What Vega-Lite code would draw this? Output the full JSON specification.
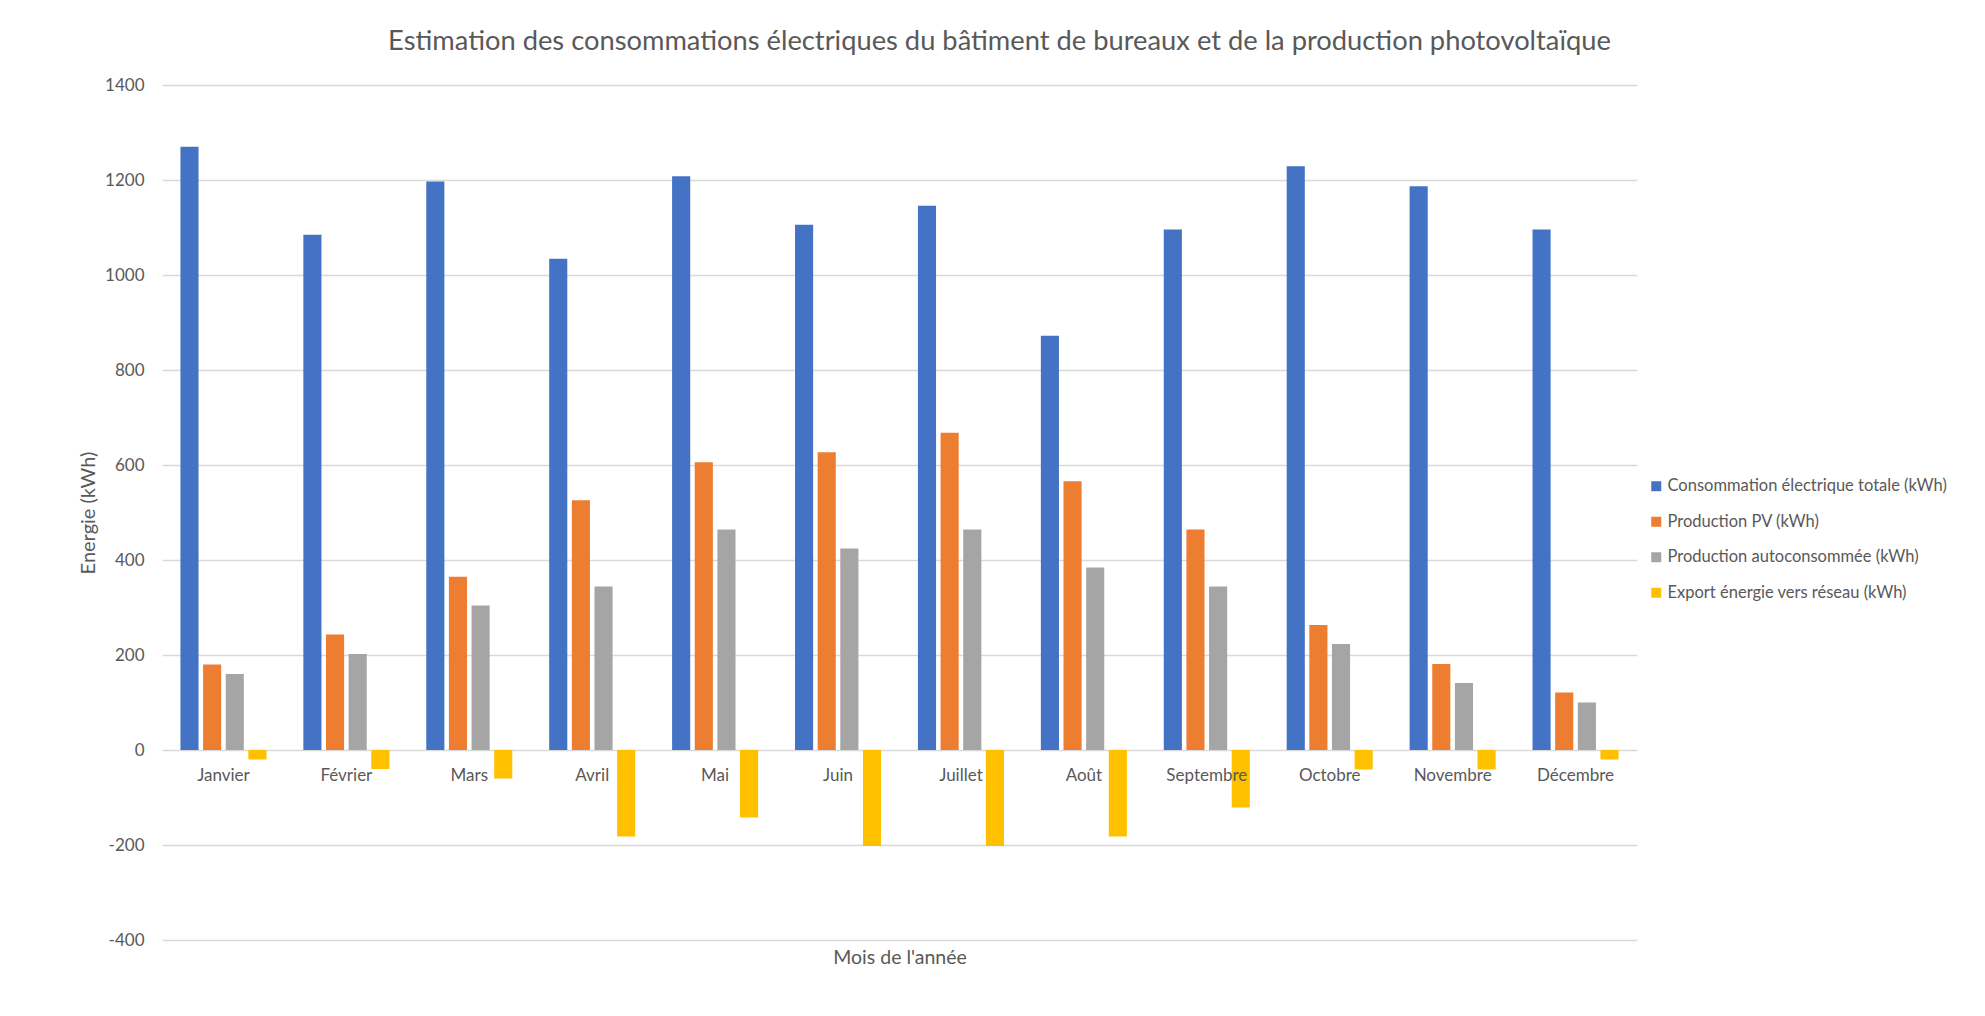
{
  "$schema": "https://vega.github.io/schema/vega-lite/v6.json",
  "width": 1475,
  "height": 855,
  "autosize": {"type": "none"},
  "padding": {"left": 162, "top": 85, "right": 348, "bottom": 76},
  "background": "white",
  "title": {
    "text": "Estimation des consommations électriques du bâtiment de bureaux et de la production photovoltaïque",
    "font": "Lato",
    "fontSize": 27.3,
    "fontWeight": "normal",
    "color": "#595959",
    "anchor": "middle",
    "baseline": "alphabetic",
    "offset": -1,
    "dx": 100
  },
  "data": {
    "values": [
      {"mois": "Janvier", "serie": "Consommation électrique totale (kWh)", "valeur": 1270},
      {"mois": "Janvier", "serie": "Production PV (kWh)", "valeur": 180},
      {"mois": "Janvier", "serie": "Production autoconsommée (kWh)", "valeur": 160},
      {"mois": "Janvier", "serie": "Export énergie vers réseau (kWh)", "valeur": -20},
      {"mois": "Février", "serie": "Consommation électrique totale (kWh)", "valeur": 1085},
      {"mois": "Février", "serie": "Production PV (kWh)", "valeur": 243},
      {"mois": "Février", "serie": "Production autoconsommée (kWh)", "valeur": 202},
      {"mois": "Février", "serie": "Export énergie vers réseau (kWh)", "valeur": -40},
      {"mois": "Mars", "serie": "Consommation électrique totale (kWh)", "valeur": 1197},
      {"mois": "Mars", "serie": "Production PV (kWh)", "valeur": 365},
      {"mois": "Mars", "serie": "Production autoconsommée (kWh)", "valeur": 304},
      {"mois": "Mars", "serie": "Export énergie vers réseau (kWh)", "valeur": -60},
      {"mois": "Avril", "serie": "Consommation électrique totale (kWh)", "valeur": 1034},
      {"mois": "Avril", "serie": "Production PV (kWh)", "valeur": 526},
      {"mois": "Avril", "serie": "Production autoconsommée (kWh)", "valeur": 344},
      {"mois": "Avril", "serie": "Export énergie vers réseau (kWh)", "valeur": -182},
      {"mois": "Mai", "serie": "Consommation électrique totale (kWh)", "valeur": 1208},
      {"mois": "Mai", "serie": "Production PV (kWh)", "valeur": 606},
      {"mois": "Mai", "serie": "Production autoconsommée (kWh)", "valeur": 464},
      {"mois": "Mai", "serie": "Export énergie vers réseau (kWh)", "valeur": -142},
      {"mois": "Juin", "serie": "Consommation électrique totale (kWh)", "valeur": 1106},
      {"mois": "Juin", "serie": "Production PV (kWh)", "valeur": 627},
      {"mois": "Juin", "serie": "Production autoconsommée (kWh)", "valeur": 424},
      {"mois": "Juin", "serie": "Export énergie vers réseau (kWh)", "valeur": -202},
      {"mois": "Juillet", "serie": "Consommation électrique totale (kWh)", "valeur": 1146},
      {"mois": "Juillet", "serie": "Production PV (kWh)", "valeur": 668},
      {"mois": "Juillet", "serie": "Production autoconsommée (kWh)", "valeur": 464},
      {"mois": "Juillet", "serie": "Export énergie vers réseau (kWh)", "valeur": -202},
      {"mois": "Août", "serie": "Consommation électrique totale (kWh)", "valeur": 872},
      {"mois": "Août", "serie": "Production PV (kWh)", "valeur": 566},
      {"mois": "Août", "serie": "Production autoconsommée (kWh)", "valeur": 384},
      {"mois": "Août", "serie": "Export énergie vers réseau (kWh)", "valeur": -182},
      {"mois": "Septembre", "serie": "Consommation électrique totale (kWh)", "valeur": 1096},
      {"mois": "Septembre", "serie": "Production PV (kWh)", "valeur": 464},
      {"mois": "Septembre", "serie": "Production autoconsommée (kWh)", "valeur": 344},
      {"mois": "Septembre", "serie": "Export énergie vers réseau (kWh)", "valeur": -121},
      {"mois": "Octobre", "serie": "Consommation électrique totale (kWh)", "valeur": 1229},
      {"mois": "Octobre", "serie": "Production PV (kWh)", "valeur": 263},
      {"mois": "Octobre", "serie": "Production autoconsommée (kWh)", "valeur": 223},
      {"mois": "Octobre", "serie": "Export énergie vers réseau (kWh)", "valeur": -41},
      {"mois": "Novembre", "serie": "Consommation électrique totale (kWh)", "valeur": 1187},
      {"mois": "Novembre", "serie": "Production PV (kWh)", "valeur": 181},
      {"mois": "Novembre", "serie": "Production autoconsommée (kWh)", "valeur": 141},
      {"mois": "Novembre", "serie": "Export énergie vers réseau (kWh)", "valeur": -41},
      {"mois": "Décembre", "serie": "Consommation électrique totale (kWh)", "valeur": 1096},
      {"mois": "Décembre", "serie": "Production PV (kWh)", "valeur": 121},
      {"mois": "Décembre", "serie": "Production autoconsommée (kWh)", "valeur": 100},
      {"mois": "Décembre", "serie": "Export énergie vers réseau (kWh)", "valeur": -20}
    ]
  },
  "mark": {"type": "bar"},
  "encoding": {
    "x": {
      "field": "mois",
      "type": "nominal",
      "sort": null,
      "scale": {"paddingInner": 0.3, "paddingOuter": 0.15},
      "axis": {
        "title": "Mois de l'année",
        "offset": -190,
        "zindex": 1,
        "domain": false,
        "ticks": false,
        "labelAngle": 0,
        "labelFont": "Lato",
        "labelFontSize": 17,
        "labelColor": "#595959",
        "labelPadding": 17,
        "labelLimit": 300,
        "labelOverlap": false,
        "titleFont": "Lato",
        "titleFontSize": 19.5,
        "titleFontWeight": "normal",
        "titleColor": "#595959",
        "titleBaseline": "middle",
        "titleY": 207
      }
    },
    "xOffset": {
      "field": "serie",
      "type": "nominal",
      "scale": {
        "domain": ["Consommation électrique totale (kWh)", "Production PV (kWh)", "Production autoconsommée (kWh)", "Export énergie vers réseau (kWh)"],
        "paddingInner": 0.2,
        "paddingOuter": 0
      }
    },
    "y": {
      "field": "valeur",
      "type": "quantitative",
      "scale": {"domain": [-400, 1400], "nice": false, "zero": false},
      "axis": {
        "title": "Energie (kWh)",
        "values": [-400, -200, 0, 200, 400, 600, 800, 1000, 1200, 1400],
        "labelExpr": "datum.value + ''",
        "domain": false,
        "ticks": false,
        "grid": true,
        "gridColor": "#D9D9D9",
        "gridWidth": 1.3,
        "labelFont": "Lato",
        "labelFontSize": 17,
        "labelColor": "#595959",
        "labelPadding": 18,
        "titleFont": "Lato",
        "titleFontSize": 20,
        "titleFontWeight": "normal",
        "titleColor": "#595959",
        "titleBaseline": "middle",
        "titleX": -74
      }
    },
    "color": {
      "field": "serie",
      "type": "nominal",
      "scale": {
        "domain": ["Consommation électrique totale (kWh)", "Production PV (kWh)", "Production autoconsommée (kWh)", "Export énergie vers réseau (kWh)"],
        "range": ["#4472C4", "#ED7D31", "#A5A5A5", "#FFC000"]
      },
      "legend": {
        "title": null,
        "orient": "none",
        "legendX": 1486,
        "legendY": 393,
        "direction": "vertical",
        "symbolType": "square",
        "symbolSize": 100,
        "symbolStrokeWidth": 0,
        "labelFont": "Lato",
        "labelFontSize": 16.5,
        "labelColor": "#595959",
        "labelOffset": 3,
        "rowPadding": 18.5,
        "padding": 0,
        "labelLimit": 400
      }
    }
  },
  "config": {
    "view": {"stroke": null},
    "axis": {"gridColor": "#D9D9D9"}
  }
}
